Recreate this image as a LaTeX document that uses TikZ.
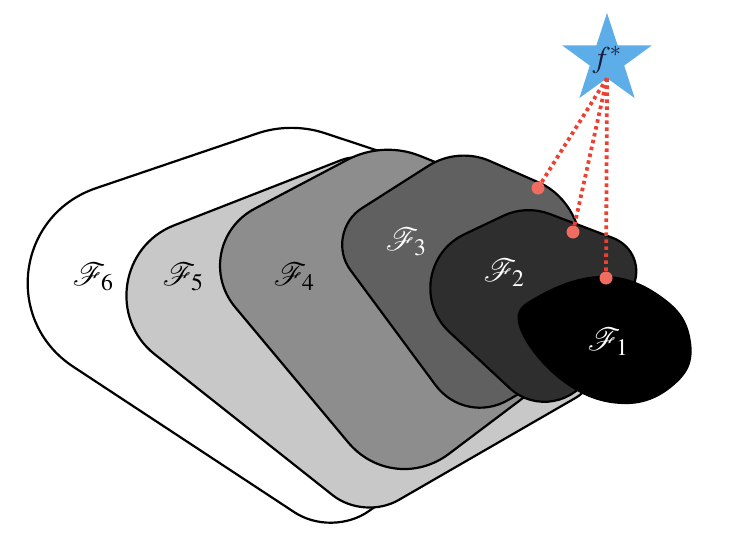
\documentclass[tikz,border=0pt]{standalone}
\usepackage{amsmath}
\usepackage{mathptmx}
\usepackage{tikz}
\usetikzlibrary{calc,shapes.geometric}

\definecolor{gsix}{RGB}{255,255,255}
\definecolor{gfive}{RGB}{200,200,200}
\definecolor{gfour}{RGB}{141,141,141}
\definecolor{gthree}{RGB}{96,96,96}
\definecolor{gtwo}{RGB}{46,46,46}
\definecolor{starblue}{RGB}{93,173,232}
\definecolor{starink}{RGB}{20,28,58}
\definecolor{dotred}{RGB}{240,108,96}
\definecolor{linered}{RGB}{238,64,50}

% rounded corner at vertex #2 (coming from #1, going to #3), inset #4, control factor #5
\newcommand{\rc}[5]{-- ($(#2)!#4!(#1)$) .. controls ($(#2)!#5*#4!(#1)$) and ($(#2)!#5*#4!(#3)$) .. ($(#2)!#4!(#3)$)}

\tikzset{
  region/.style={draw=black, line width=2.2pt, line join=round},
  lbl/.style={font=\fontsize{32}{38}\selectfont},
  hit/.style={circle, fill=dotred, inner sep=0pt, minimum size=13pt},
  reach/.style={draw=linered, line width=3.8pt, dash pattern=on 3.5pt off 3.5pt},
}

\begin{document}
\begin{tikzpicture}[x=1pt, y=-1pt]
\useasboundingbox (0,0) rectangle (730,543);

% F6
\coordinate (l6) at (-98,254);
\coordinate (t6) at (291,122);
\coordinate (q6) at (400,158);
\coordinate (r6) at (470,440);
\coordinate (b6) at (332,537);
\draw[region, fill=gsix] ($(l6)!205pt!(t6)$) \rc{l6}{t6}{q6}{35pt}{0.37} \rc{t6}{q6}{r6}{8pt}{0.45}
  \rc{q6}{r6}{b6}{8pt}{0.45} \rc{r6}{b6}{l6}{45pt}{0.42} \rc{b6}{l6}{t6}{205pt}{0.59} -- cycle;

% F5
\coordinate (l5) at (52,273);
\coordinate (t5) at (362,152);
\coordinate (r5) at (610,378);
\coordinate (b5) at (364,520);
\draw[region, fill=gfive] ($(l5)!131pt!(t5)$) \rc{l5}{t5}{r5}{22pt}{0.37} \rc{t5}{r5}{b5}{40pt}{0.45}
  \rc{r5}{b5}{l5}{40pt}{0.42} \rc{b5}{l5}{t5}{131pt}{0.56} -- cycle;

% F4
\coordinate (l4) at (184,246);
\coordinate (t4) at (383,141);
\coordinate (q4) at (455,170);
\coordinate (r4) at (580,355);
\coordinate (b4) at (393,496);
\draw[region, fill=gfour] ($(l4)!80pt!(t4)$) \rc{l4}{t4}{q4}{40pt}{0.37} \rc{t4}{q4}{r4}{10pt}{0.45}
  \rc{q4}{r4}{b4}{20pt}{0.45} \rc{r4}{b4}{l4}{70pt}{0.43} \rc{b4}{l4}{t4}{80pt}{0.48} -- cycle;

% F3
\coordinate (l3) at (323,233);
\coordinate (t3) at (458,147);
\coordinate (r3) at (590,205);
\coordinate (m3) at (560,370);
\coordinate (b3) at (465,425);
\draw[region, fill=gthree] ($(l3)!46pt!(t3)$) \rc{l3}{t3}{r3}{35pt}{0.38} \rc{t3}{r3}{m3}{55pt}{0.45}
  \rc{r3}{m3}{b3}{10pt}{0.45} \rc{m3}{b3}{l3}{50pt}{0.42} \rc{b3}{l3}{t3}{46pt}{0.47} -- cycle;

% F2
\coordinate (l2) at (385,272);
\coordinate (t2) at (526,205);
\coordinate (r2) at (650,252);
\coordinate (b2) at (560,435);
\draw[region, fill=gtwo] ($(l2)!88pt!(t2)$) \rc{l2}{t2}{r2}{25pt}{0.37} \rc{t2}{r2}{b2}{40pt}{0.45}
  \rc{r2}{b2}{l2}{69pt}{0.5} \rc{b2}{l2}{t2}{88pt}{0.52} -- cycle;

% F1
\draw[region, fill=black] plot[smooth cycle, tension=0.7] coordinates {(520,326) (540,296) (607,277) (667,302) (690,343) (677,381) (627,403) (565,382)};

% labels
\node[lbl] (n6) at (93,277) {$\mathcal{F}_6$};
\node[lbl] (n5) at (183,277) {$\mathcal{F}_5$};
\node[lbl] (n4) at (294,277) {$\mathcal{F}_4$};
\node[lbl, text=white] (n3) at (406,242) {$\mathcal{F}_3$};
\node[lbl, text=white] (n2) at (504,273) {$\mathcal{F}_2$};
\node[lbl, text=white] (n1) at (608,342) {$\mathcal{F}_1$};

% target and distances
\node[hit] (d3) at (538,188) {};
\node[hit] (d2) at (573,232) {};
\node[hit] (d1) at (606,278) {};
\node[star, star points=5, star point ratio=2.6, fill=starblue, inner sep=0pt, minimum size=94pt] (fstar) at (607,60) {};
\node[text=starink, font=\fontsize{30}{36}\selectfont] (ftext) at (fstar.center) {$f^*$};
\draw[reach] (fstar.south) -- (d3);
\draw[reach] (fstar.south) -- (d2);
\draw[reach] (fstar.south) -- (d1);
\end{tikzpicture}
\end{document}
